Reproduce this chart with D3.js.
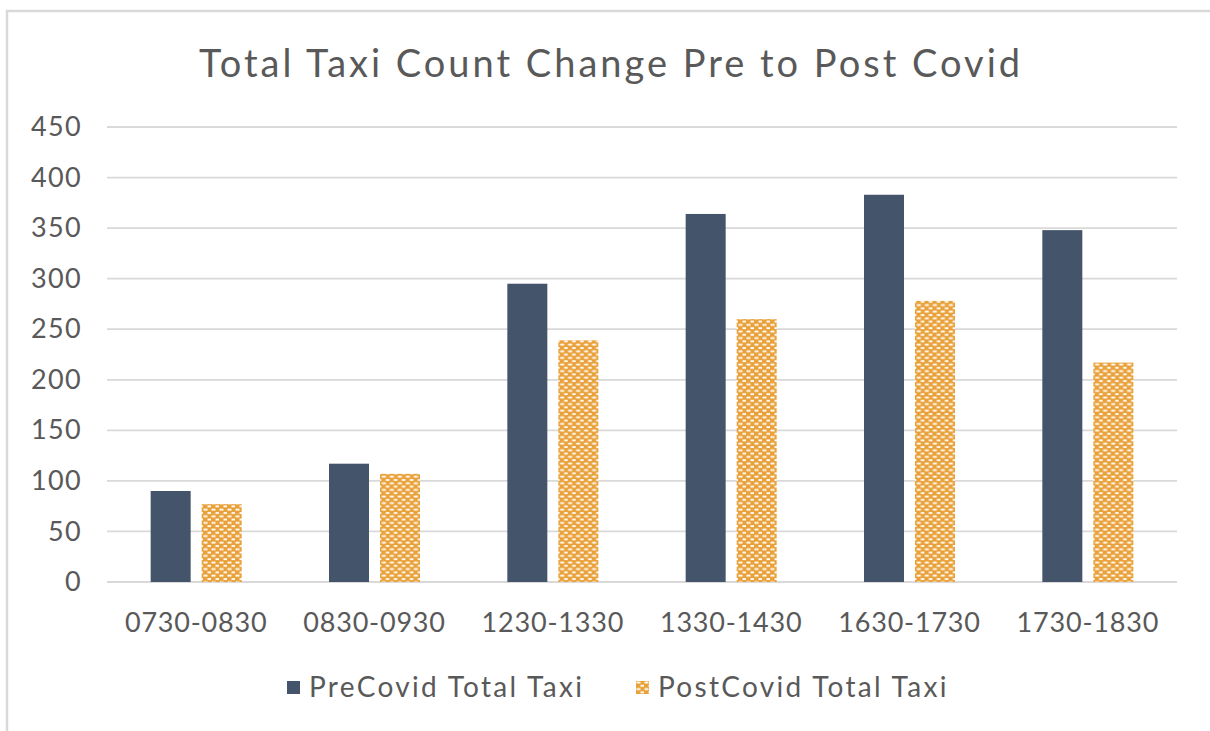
<!DOCTYPE html>
<html><head><meta charset="utf-8">
<script src="https://cdn.jsdelivr.net/npm/d3@7/dist/d3.min.js"></script>
<style>html,body{margin:0;padding:0;background:#fff;}svg{display:block;}</style>
</head><body>
<svg id="chart" width="1210" height="731"></svg>
<script>
const categories = ["0730-0830","0830-0930","1230-1330","1330-1430","1630-1730","1730-1830"];
const seriesNames = ["PreCovid Total Taxi","PostCovid Total Taxi"];
const preValues = [90, 117, 295, 364, 383, 348];
const postValues = [77, 107, 239, 260, 278, 217];
const yTicks = [0,50,100,150,200,250,300,350,400,450];
const title = "Total Taxi Count Change Pre to Post Covid";

const W = 1210, H = 731;
const FONT = "Lato, 'Open Sans', sans-serif";
const TXT = "#595959";
const svg = d3.select("#chart");

const defs = svg.append("defs");
const pat = defs.append("pattern").attr("id","conf").attr("patternUnits","userSpaceOnUse")
  .attr("width",8).attr("height",6.6);
pat.append("rect").attr("width",8).attr("height",6.6).attr("fill","#E9A23B");
pat.append("rect").attr("x",0.5).attr("y",0.6).attr("width",4).attr("height",1.8).attr("fill","#fff");
pat.append("rect").attr("x",4.5).attr("y",3.9).attr("width",4).attr("height",1.8).attr("fill","#fff");

// chart border
svg.append("rect").attr("x",7).attr("y",11).attr("width",1230).attr("height",760)
  .attr("fill","none").attr("stroke","#d9d9d9").attr("stroke-width",2.5);

const plot = {left:107, right:1177, top:127, bottom:582};
const x0 = d3.scaleBand().domain(categories).range([plot.left, plot.right]).padding(0);
const x1 = d3.scaleBand().domain(seriesNames).range([0, x0.bandwidth()]).paddingInner(0.216).paddingOuter(0.856);
const y = d3.scaleLinear().domain([0,450]).range([plot.bottom, plot.top]);

// gridlines
svg.append("g").selectAll("line").data(yTicks).join("line")
  .attr("x1",plot.left).attr("x2",plot.right)
  .attr("y1",d=>y(d)).attr("y2",d=>y(d))
  .attr("stroke","#d9d9d9").attr("stroke-width",1.8);

// y axis labels
const yAxis = d3.axisLeft(y).tickValues(yTicks).tickSize(0).tickPadding(0);
const gy = svg.append("g").attr("transform",`translate(82,0)`).call(yAxis);
gy.select(".domain").remove();
gy.selectAll("text").attr("fill",TXT).style("font-family",FONT).style("font-size","27px")
  .style("letter-spacing","1.3px");

// bars
const data = categories.map((c,i)=>({cat:c, vals:[{s:seriesNames[0],v:preValues[i]},{s:seriesNames[1],v:postValues[i]}]}));
const groups = svg.append("g").selectAll("g").data(data).join("g")
  .attr("transform",d=>`translate(${x0(d.cat)},0)`);
groups.selectAll("rect").data(d=>d.vals).join("rect")
  .attr("x",d=>x1(d.s)).attr("width",x1.bandwidth())
  .attr("y",d=>y(d.v)).attr("height",d=>y(0)-y(d.v))
  .attr("fill",(d,i)=> i===0 ? "#44546A" : "url(#conf)");

// x axis labels
const xAxis = d3.axisBottom(x0).tickSize(0).tickPadding(0);
const gx = svg.append("g").attr("transform",`translate(0,${plot.bottom})`).call(xAxis);
gx.select(".domain").remove();
gx.selectAll("text").attr("fill",TXT).attr("dy",null).attr("y",50)
  .style("font-family",FONT).style("font-size","27px").style("letter-spacing","0.8px");

// title
svg.append("text").attr("x",611).attr("y",77).attr("text-anchor","middle")
  .attr("fill",TXT).style("font-family",FONT).style("font-size","38px")
  .style("letter-spacing","3px").text(title);

// legend
const legendX = [287, 636];
const lg = svg.append("g").selectAll("g").data(seriesNames).join("g")
  .attr("transform",(d,i)=>`translate(${legendX[i]},681)`);
lg.append("rect").attr("width",13).attr("height",13)
  .attr("fill",(d,i)=> i===0 ? "#44546A" : "url(#conf)");
lg.append("text").attr("x",22).attr("y",16).attr("fill",TXT)
  .style("font-family",FONT).style("font-size","28px").style("letter-spacing","2.3px").text(d=>d);
</script>
</body></html>
